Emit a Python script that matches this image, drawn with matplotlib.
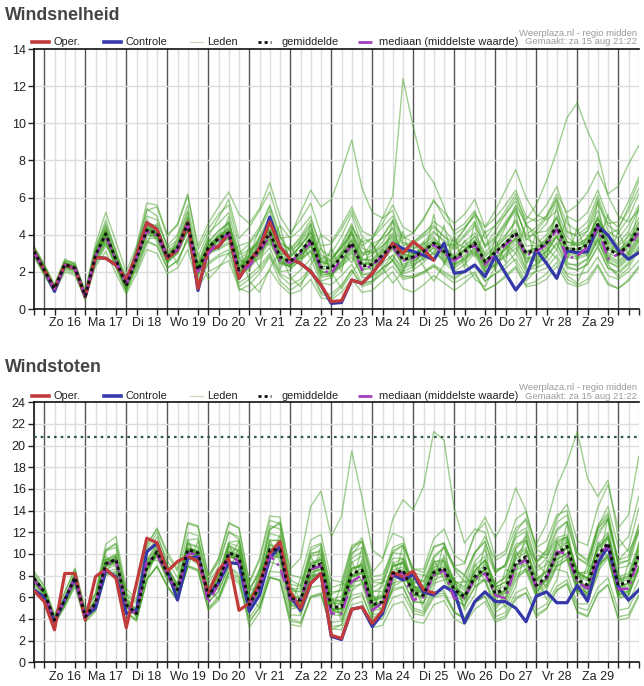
import numpy as np
import matplotlib
matplotlib.use('Agg')
import matplotlib.pyplot as plt
from matplotlib.lines import Line2D

plt.rcParams['font.family'] = ['Liberation Sans', 'DejaVu Sans']

# time axis: 6-hourly steps from Sat 15 aug 18:00 (step 0) to Sun 30 aug 12:00 (step 59)
n_steps = 60
day_labels = ['Zo 16', 'Ma 17', 'Di 18', 'Wo 19', 'Do 20', 'Vr 21', 'Za 22',
              'Zo 23', 'Ma 24', 'Di 25', 'Wo 26', 'Do 27', 'Vr 28', 'Za 29']

# ---------------- Windsnelheid ----------------
speed_oper = [3.1, 2.1, 1.1, 2.37, 2.19, 0.66, 2.78, 2.73, 2.37, 1.6,
              2.9, 4.65, 4.29, 2.73, 3.18, 4.65, 1.1, 3.18, 3.36, 4.1,
              1.65, 2.55, 3.27, 4.7, 3.36, 2.68, 2.46, 2.01, 1.29, 0.4,
              0.45, 1.56, 1.38, 1.92, 2.64, 3.54, 3.0, 3.63, 3.18, 2.64]
speed_ctrl = [3.1, 2.1, 0.95, 2.37, 2.19, 0.66, 2.78, 2.73, 2.37, 1.6,
              2.9, 4.65, 4.29, 2.73, 3.18, 4.65, 1.0, 3.18, 3.36, 4.1,
              1.65, 2.55, 3.27, 4.95, 3.36, 2.68, 2.46, 2.01, 1.29, 0.3,
              0.35, 1.56, 1.38, 1.92, 2.64, 3.54, 3.25, 3.1, 2.9, 2.64,
              3.54, 1.92, 2.01, 2.37, 1.74, 2.85, 1.92, 1.02, 1.74, 3.18,
              2.46, 1.65, 3.14, 3.03, 3.09, 4.47, 3.98, 3.18, 2.68, 3.03]
speed_mean = [3.1, 2.1, 1.1, 2.4, 2.2, 0.7, 2.9, 4.05, 2.65, 1.25,
              2.7, 4.25, 4.1, 2.8, 3.3, 4.6, 2.1, 3.3, 3.8, 4.1,
              2.1, 2.6, 3.2, 4.1, 2.8, 2.55, 3.1, 3.75, 2.25, 2.2,
              2.8, 3.55, 2.3, 2.4, 2.9, 3.45, 2.65, 2.8, 3.1, 3.55,
              3.1, 2.75, 3.1, 3.55, 2.55, 3.05, 3.55, 4.1, 3.0, 3.2,
              3.55, 4.5, 3.25, 3.2, 3.45, 4.55, 3.2, 2.95, 3.45, 4.35]
speed_median = [3.05, 2.1, 1.05, 2.35, 2.2, 0.7, 2.85, 3.95, 2.6, 1.3,
                2.75, 4.2, 3.95, 2.85, 3.2, 4.55, 2.0, 2.95, 3.7, 4.05,
                2.05, 2.3, 3.1, 3.95, 2.6, 2.5, 3.0, 3.6, 2.15, 1.9,
                2.7, 3.45, 2.1, 2.35, 2.85, 3.35, 2.6, 2.75, 3.05, 3.45,
                3.0, 2.6, 3.0, 3.45, 2.4, 2.95, 3.45, 3.95, 2.9, 3.1,
                3.45, 4.3, 2.7, 2.85, 3.35, 4.4, 2.7, 2.95, 3.3, 4.1]
speed_members = [
    [3.4, 2.4, 1.3, 2.6, 2.5, 0.9, 3.3, 4.6, 3.0, 1.5, 3.2, 5.0, 4.8, 3.4, 4.0, 5.6, 2.8, 4.1, 4.6, 5.2,
     3.0, 3.5, 4.2, 5.3, 3.6, 3.2, 3.8, 4.6, 2.9, 2.6, 3.5, 4.6, 3.0, 3.1, 3.9, 4.7, 3.5, 3.6, 4.1, 4.5,
     3.9, 3.4, 4.0, 4.7, 3.3, 3.8, 4.6, 5.4, 3.9, 4.0, 4.6, 5.8, 4.1, 4.0, 4.4, 5.9, 4.2, 3.8, 4.5, 5.6],
    [2.8, 1.8, 0.9, 2.1, 1.9, 0.5, 2.5, 3.5, 2.2, 0.9, 2.2, 3.6, 3.4, 2.2, 2.6, 3.7, 1.5, 2.5, 2.9, 3.2,
     1.4, 1.8, 2.3, 3.0, 1.9, 1.6, 2.1, 2.7, 1.4, 1.3, 1.8, 2.4, 1.4, 1.5, 1.9, 2.3, 1.6, 1.7, 2.0, 2.4,
     2.0, 1.7, 2.0, 2.3, 1.5, 1.9, 2.2, 2.7, 1.8, 2.0, 2.2, 2.9, 1.9, 1.8, 2.0, 2.8, 1.8, 1.6, 2.0, 2.6],
    [3.2, 2.2, 1.2, 2.5, 2.3, 0.8, 3.0, 4.3, 2.8, 1.3, 2.9, 4.5, 4.4, 3.0, 3.5, 5.0, 2.3, 3.6, 4.2, 4.6,
     2.5, 3.0, 3.8, 4.8, 3.2, 2.9, 3.7, 4.5, 2.7, 3.0, 3.9, 5.1, 3.4, 3.8, 4.9, 6.1, 12.4, 9.8, 7.6, 6.8,
     5.5, 4.0, 4.4, 5.0, 3.4, 3.9, 4.7, 5.5, 3.8, 3.5, 4.0, 5.0, 3.6, 3.4, 3.7, 4.8, 3.5, 3.1, 3.6, 4.6],
    [3.0, 2.0, 1.0, 2.3, 2.1, 0.6, 2.8, 3.8, 2.5, 1.1, 2.5, 4.0, 3.9, 2.6, 3.1, 4.3, 1.9, 3.0, 3.5, 3.8,
     1.8, 2.3, 2.9, 3.8, 2.5, 2.3, 2.8, 3.4, 2.0, 1.9, 2.5, 3.2, 2.1, 2.3, 2.8, 3.3, 2.6, 2.9, 3.4, 4.1,
     3.7, 3.3, 3.9, 4.5, 3.4, 4.2, 5.1, 6.0, 4.8, 5.6, 6.9, 8.5, 10.3, 11.1, 9.6, 8.4, 6.1, 5.0, 4.7, 5.3],
    [3.3, 2.3, 1.2, 2.5, 2.3, 0.8, 3.1, 4.2, 2.7, 1.3, 2.8, 4.4, 4.3, 2.9, 3.4, 4.8, 2.2, 3.4, 4.0, 4.3,
     2.2, 2.8, 3.5, 4.5, 3.1, 2.8, 3.4, 4.2, 2.5, 2.4, 3.1, 4.0, 2.6, 2.7, 3.3, 4.0, 3.0, 3.2, 3.6, 4.2,
     3.6, 3.2, 3.6, 4.1, 3.0, 3.7, 4.5, 5.3, 4.0, 4.4, 5.0, 6.2, 5.2, 5.6, 6.3, 7.4, 6.2, 6.6, 7.8, 8.8],
    [2.9, 2.0, 1.0, 2.2, 2.0, 0.6, 2.7, 3.9, 2.4, 1.1, 2.6, 4.1, 3.9, 2.7, 3.2, 4.5, 2.0, 3.1, 3.7, 4.0,
     2.3, 2.9, 3.9, 5.0, 3.8, 3.9, 5.2, 6.4, 5.5, 5.9, 7.4, 9.1, 6.5, 5.2, 4.9, 5.3, 3.6, 3.3, 3.5, 3.9,
     3.0, 2.6, 2.9, 3.3, 2.3, 2.8, 3.3, 3.8, 2.6, 2.8, 3.1, 3.9, 2.8, 2.7, 2.9, 3.9, 2.7, 2.4, 2.9, 3.8],
    [3.1, 2.1, 1.1, 2.4, 2.2, 0.7, 2.9, 4.1, 2.6, 1.2, 2.7, 4.3, 4.1, 2.8, 3.3, 4.6, 2.1, 3.2, 3.6, 3.9,
     1.0, 1.3, 1.9, 2.8, 1.5, 1.0, 1.4, 2.0, 0.8, 0.6, 1.2, 2.1, 1.3, 1.5, 2.2, 2.9, 2.0, 2.3, 2.8, 3.3,
     2.5, 2.0, 2.4, 3.0, 1.8, 2.4, 3.0, 3.7, 2.5, 2.7, 3.1, 4.0, 2.9, 2.8, 3.0, 4.1, 2.8, 2.5, 3.0, 3.9],
    [3.2, 2.2, 1.1, 2.5, 2.3, 0.8, 3.0, 4.2, 2.8, 1.3, 2.8, 4.4, 4.2, 2.9, 3.5, 4.9, 2.4, 3.9, 4.9, 5.9,
     3.8, 4.4, 5.3, 6.3, 4.5, 3.8, 4.3, 5.0, 3.2, 2.8, 3.3, 4.1, 2.7, 2.6, 3.1, 3.6, 2.8, 2.9, 3.2, 3.7,
     3.2, 2.8, 3.2, 3.7, 2.6, 3.1, 3.6, 4.2, 3.1, 3.3, 3.6, 4.5, 3.3, 3.2, 3.5, 4.6, 3.3, 3.0, 3.5, 4.4],
    [3.0, 2.0, 1.1, 2.3, 2.1, 0.7, 2.8, 3.7, 2.5, 1.2, 2.6, 4.1, 4.0, 2.7, 3.1, 4.4, 1.9, 2.9, 3.4, 3.8,
     2.0, 2.4, 3.0, 3.9, 2.6, 2.3, 2.9, 3.5, 2.0, 2.0, 2.6, 3.3, 2.1, 2.2, 2.7, 3.2, 2.4, 2.6, 2.9, 3.3,
     2.8, 2.4, 2.8, 3.2, 2.2, 2.7, 3.2, 3.8, 2.7, 2.9, 3.3, 4.2, 3.0, 2.9, 3.1, 4.2, 2.9, 2.6, 3.1, 4.0],
    [3.3, 2.3, 1.2, 2.6, 2.4, 0.8, 3.2, 4.8, 3.1, 1.5, 3.1, 5.4, 5.0, 3.3, 3.7, 5.2, 2.5, 3.0, 3.2, 3.5,
     1.6, 2.9, 4.3, 5.6, 4.0, 2.6, 2.7, 3.1, 1.5, 1.7, 2.9, 4.4, 3.6, 3.8, 4.4, 5.0, 3.9, 3.6, 4.0, 4.7,
     4.3, 3.6, 3.3, 3.5, 2.4, 3.3, 4.4, 5.6, 4.6, 3.8, 3.4, 3.9, 2.5, 2.3, 2.7, 3.8, 2.6, 2.2, 2.7, 3.6],
    [2.9, 1.9, 1.0, 2.2, 2.0, 0.6, 2.6, 3.6, 2.3, 1.0, 2.4, 3.8, 3.8, 2.5, 3.0, 4.2, 1.8, 3.2, 3.9, 4.4,
     2.6, 2.5, 2.7, 3.3, 2.0, 2.1, 2.7, 3.2, 1.8, 1.9, 2.3, 2.8, 1.8, 2.0, 2.5, 2.9, 2.2, 2.4, 2.7, 3.0,
     2.6, 2.2, 2.6, 3.1, 2.0, 2.4, 2.9, 3.5, 2.2, 2.4, 2.8, 3.6, 2.4, 2.4, 2.7, 3.7, 2.5, 2.3, 2.8, 3.7],
    [3.2, 2.2, 1.2, 2.5, 2.3, 0.7, 3.0, 4.1, 2.7, 1.3, 2.8, 4.3, 4.2, 2.9, 3.4, 4.7, 2.2, 3.4, 3.9, 4.2,
     2.2, 2.7, 3.3, 4.3, 3.0, 2.8, 3.4, 4.1, 2.6, 2.6, 3.3, 4.2, 3.0, 3.2, 3.9, 4.8, 3.8, 4.1, 4.9, 5.8,
     5.2, 4.6, 5.1, 5.9, 4.4, 4.9, 5.6, 6.4, 5.0, 4.7, 5.0, 5.9, 4.2, 3.9, 4.2, 5.3, 3.7, 3.5, 4.2, 5.4],
    [3.1, 2.1, 1.0, 2.4, 2.2, 0.7, 2.9, 4.0, 2.6, 1.2, 2.7, 4.2, 4.0, 2.7, 3.2, 4.5, 2.0, 3.2, 3.7, 4.0,
     2.0, 2.5, 3.1, 4.0, 2.7, 2.4, 2.9, 3.5, 2.0, 1.9, 2.4, 3.1, 1.9, 1.8, 2.2, 2.6, 1.7, 1.8, 2.0, 2.3,
     1.8, 1.4, 1.7, 2.0, 1.0, 1.3, 1.7, 2.2, 1.2, 1.3, 1.6, 2.3, 1.4, 1.2, 1.4, 2.3, 1.3, 1.1, 1.5, 2.2],
    [3.0, 2.1, 1.1, 2.3, 2.1, 0.7, 2.8, 4.0, 2.6, 1.2, 2.6, 4.2, 4.1, 2.8, 3.2, 4.6, 2.0, 3.0, 3.3, 3.6,
     1.8, 2.2, 2.8, 3.6, 2.4, 2.3, 3.0, 3.9, 2.5, 2.6, 3.4, 4.5, 3.3, 3.0, 3.4, 3.9, 2.9, 2.8, 3.0, 3.4,
     3.0, 2.7, 3.2, 3.9, 2.9, 3.4, 4.0, 4.7, 3.4, 3.4, 3.7, 4.6, 3.4, 3.5, 3.8, 5.0, 3.6, 3.2, 3.7, 4.7],
    [3.2, 2.2, 1.1, 2.4, 2.2, 0.7, 3.0, 4.3, 2.8, 1.3, 2.9, 4.6, 4.5, 3.1, 3.6, 4.9, 2.3, 3.6, 4.2, 4.7,
     2.7, 3.1, 3.5, 4.2, 2.7, 2.2, 2.6, 3.1, 1.7, 1.8, 2.5, 3.4, 2.4, 2.6, 3.2, 3.8, 2.9, 3.0, 3.3, 3.8,
     3.3, 2.9, 3.4, 3.9, 2.8, 3.3, 3.8, 4.3, 3.1, 3.3, 3.8, 4.9, 3.6, 3.5, 3.8, 4.9, 3.6, 3.4, 3.9, 4.9],
    [3.0, 2.0, 1.0, 2.3, 2.1, 0.6, 2.7, 3.8, 2.5, 1.1, 2.6, 4.0, 3.8, 2.6, 3.1, 4.3, 2.0, 3.2, 3.8, 4.2,
     2.3, 2.6, 3.0, 3.7, 2.5, 2.4, 3.1, 3.9, 2.4, 2.5, 3.0, 3.7, 2.4, 2.4, 2.8, 3.3, 2.3, 2.5, 3.0, 3.6,
     3.1, 2.7, 3.1, 3.6, 2.6, 3.0, 3.5, 4.1, 2.9, 3.1, 3.5, 4.4, 3.1, 3.0, 3.3, 4.3, 3.0, 2.8, 3.3, 4.2],
    [3.0, 1.9, 1.0, 2.2, 2.3, 0.9, 2.4, 3.4, 2.9, 1.8, 2.0, 3.5, 4.6, 3.5, 2.4, 3.9, 3.0, 1.6, 2.2, 3.0,
     3.4, 1.5, 0.9, 2.2, 3.1, 1.7, 1.2, 2.4, 3.3, 2.0, 1.1, 1.9, 2.8, 3.6, 2.2, 1.4, 2.0, 3.1, 2.3, 1.5,
     2.4, 3.5, 2.6, 1.6, 1.2, 2.3, 3.4, 2.5, 1.5, 2.1, 3.3, 2.7, 1.8, 1.4, 2.6, 3.7, 2.4, 1.7, 2.2, 3.2],
    [3.3, 2.4, 1.3, 2.7, 2.4, 1.0, 3.5, 5.2, 3.6, 2.0, 3.4, 5.7, 5.6, 4.0, 4.5, 6.1, 3.4, 4.6, 5.5, 6.3,
     5.1, 4.6, 5.4, 6.8, 5.0, 4.1, 4.8, 5.7, 4.0, 3.6, 4.5, 5.5, 4.2, 3.9, 4.6, 5.6, 4.4, 4.1, 4.8, 5.9,
     4.9, 4.2, 4.6, 5.3, 3.8, 4.5, 5.3, 6.2, 4.6, 4.9, 5.6, 6.6, 5.0, 4.7, 5.2, 6.4, 4.9, 4.4, 5.3, 6.5],
    [2.9, 1.9, 0.9, 2.0, 1.8, 0.5, 2.3, 3.1, 1.9, 0.8, 1.9, 3.2, 3.0, 1.9, 2.2, 3.2, 1.2, 2.0, 2.3, 2.6,
     1.1, 0.9, 1.4, 2.1, 1.3, 0.8, 1.0, 1.6, 0.6, 0.5, 0.9, 1.6, 0.9, 1.0, 1.5, 2.0, 1.1, 0.9, 1.3, 1.8,
     1.4, 1.0, 1.4, 1.9, 1.0, 1.3, 1.8, 2.3, 1.3, 1.5, 1.9, 2.5, 1.6, 1.3, 1.6, 2.4, 1.4, 1.1, 1.6, 2.3],
    [3.1, 2.2, 1.2, 2.5, 2.1, 0.8, 3.1, 4.4, 2.4, 1.0, 3.0, 4.8, 3.6, 2.4, 3.9, 5.3, 1.7, 3.7, 3.2, 5.0,
     1.7, 3.4, 2.2, 4.9, 2.1, 3.5, 2.3, 4.6, 1.8, 3.3, 2.0, 4.3, 1.9, 3.6, 2.4, 4.8, 2.0, 3.7, 2.6, 5.1,
     2.4, 4.0, 2.2, 4.7, 2.0, 3.8, 2.5, 5.2, 2.3, 4.1, 2.7, 5.6, 2.6, 4.4, 2.8, 5.8, 2.5, 4.2, 2.9, 5.5],
    [3.2, 2.3, 1.2, 2.5, 2.4, 0.8, 3.2, 4.5, 3.1, 1.5, 3.3, 5.3, 5.5, 3.9, 4.6, 6.2, 3.2, 4.3, 5.1, 5.6,
     3.4, 3.6, 4.4, 5.5, 3.9, 3.1, 3.6, 4.3, 2.6, 2.3, 2.9, 3.8, 2.5, 2.4, 2.9, 3.7, 2.7, 2.6, 3.0, 3.6,
     3.0, 2.6, 3.1, 3.7, 2.6, 3.2, 3.9, 4.8, 3.7, 4.2, 4.9, 6.0, 4.6, 4.2, 4.7, 6.1, 4.5, 4.1, 4.9, 6.2],
    [3.0, 2.0, 1.0, 2.3, 2.1, 0.6, 2.6, 3.6, 2.3, 1.0, 2.3, 3.7, 3.4, 2.2, 2.6, 3.8, 1.5, 2.4, 2.8, 3.0,
     1.2, 1.6, 2.1, 2.9, 1.8, 1.3, 1.6, 2.2, 0.9, 0.8, 1.3, 2.1, 1.2, 1.4, 2.0, 2.7, 1.9, 2.1, 2.5, 3.1,
     2.7, 2.3, 2.7, 3.3, 2.2, 2.7, 3.2, 3.9, 2.8, 2.6, 2.8, 3.5, 2.3, 2.1, 2.4, 3.4, 2.2, 1.9, 2.4, 3.3],
    [3.1, 2.1, 1.1, 2.4, 2.2, 0.7, 2.9, 4.0, 2.6, 1.2, 2.7, 4.3, 4.1, 2.8, 3.3, 4.7, 2.1, 3.4, 3.9, 4.3,
     2.4, 2.9, 3.7, 4.8, 3.5, 3.2, 3.9, 4.8, 3.4, 3.5, 4.3, 5.3, 3.9, 3.5, 3.8, 4.3, 3.0, 2.8, 3.1, 3.6,
     3.4, 3.5, 4.3, 5.2, 4.1, 4.5, 5.1, 5.8, 4.5, 4.1, 4.2, 4.9, 3.6, 3.6, 4.2, 5.7, 4.6, 4.7, 5.8, 7.1],
    [3.2, 2.2, 1.1, 2.4, 2.3, 0.7, 3.0, 4.1, 2.7, 1.3, 2.8, 4.3, 4.1, 2.8, 3.4, 4.7, 2.2, 3.3, 3.7, 4.0,
     2.3, 2.8, 3.4, 4.3, 3.0, 2.8, 3.4, 4.1, 2.7, 2.7, 3.3, 4.1, 2.9, 3.0, 3.6, 4.4, 3.4, 3.5, 3.9, 4.4,
     3.9, 3.6, 4.3, 5.1, 4.4, 5.3, 6.4, 7.5, 6.0, 5.1, 4.8, 5.3, 3.9, 3.4, 3.6, 4.6, 3.4, 3.0, 3.4, 4.4],
    [3.0, 2.0, 1.0, 2.3, 2.2, 0.7, 2.8, 3.9, 2.6, 1.2, 2.6, 4.1, 4.0, 2.7, 3.2, 4.4, 2.0, 3.3, 4.0, 4.7,
     2.9, 3.2, 3.6, 4.3, 2.9, 2.6, 3.0, 3.6, 2.1, 2.2, 2.8, 3.7, 2.6, 2.9, 3.4, 4.1, 3.1, 3.0, 3.2, 3.5,
     2.9, 2.4, 2.7, 3.1, 2.0, 2.4, 2.8, 3.3, 2.1, 2.2, 2.5, 3.2, 2.2, 2.1, 2.4, 3.3, 2.2, 2.0, 2.5, 3.4],
    [3.2, 2.1, 1.1, 2.5, 2.2, 0.8, 2.9, 4.2, 2.7, 1.4, 2.9, 4.5, 3.9, 2.5, 3.0, 4.2, 2.5, 3.8, 3.3, 4.6,
     2.8, 2.0, 3.9, 3.4, 4.5, 2.3, 3.6, 2.7, 4.0, 1.6, 3.1, 2.5, 3.8, 1.8, 3.2, 2.6, 4.2, 2.1, 3.6, 2.9,
     4.5, 2.3, 3.7, 2.8, 4.2, 2.1, 3.5, 3.0, 4.6, 2.4, 3.8, 3.2, 5.0, 2.6, 4.0, 3.4, 5.1, 2.7, 4.1, 3.6],
    [3.1, 2.1, 1.1, 2.4, 2.2, 0.7, 2.9, 4.0, 2.6, 1.2, 2.7, 4.2, 4.1, 2.8, 3.3, 4.6, 2.1, 3.3, 3.8, 4.1,
     2.1, 2.6, 3.2, 4.1, 2.8, 2.5, 3.1, 3.8, 2.3, 2.3, 2.9, 3.6, 2.4, 2.5, 3.0, 3.5, 2.7, 2.9, 3.2, 3.6,
     3.2, 2.8, 3.2, 3.6, 2.6, 3.1, 3.6, 4.1, 3.0, 3.2, 3.6, 4.5, 3.3, 3.2, 3.5, 4.6, 3.2, 3.0, 3.5, 4.4],
    [3.1, 2.1, 1.1, 2.4, 2.2, 0.7, 2.9, 4.0, 2.6, 1.2, 2.7, 4.2, 4.1, 2.8, 3.3, 4.6, 2.1, 3.3, 3.8, 4.1,
     2.0, 2.4, 3.0, 3.8, 2.5, 2.3, 2.8, 3.4, 1.9, 1.8, 2.3, 3.0, 1.7, 1.7, 2.2, 2.6, 1.8, 1.7, 1.9, 2.3,
     1.9, 1.6, 2.0, 2.4, 1.5, 1.9, 2.4, 3.0, 2.0, 2.4, 3.0, 3.9, 3.0, 3.1, 3.6, 4.9, 4.0, 4.3, 5.5, 6.9],
]

# ---------------- Windstoten ----------------
gust_oper = [6.6, 5.6, 3.0, 8.2, 8.2, 3.9, 7.9, 8.6, 7.75, 3.2,
             7.3, 11.45, 11.05, 8.4, 9.3, 9.8, 9.3, 6.4, 8.5, 9.6,
             4.8, 5.45, 7.3, 10.05, 11.15, 6.5, 5.0, 7.3, 8.2, 2.5,
             2.2, 4.9, 5.1, 3.6, 4.8, 8.3, 7.9, 8.4, 6.7, 6.4]
gust_ctrl = [6.7, 6.0, 3.75, 5.75, 7.75, 4.2, 5.0, 8.5, 7.9, 4.5,
             4.8, 10.2, 11.0, 8.5, 5.75, 9.6, 9.75, 6.2, 7.3, 9.2,
             9.1, 4.7, 6.2, 9.6, 10.7, 6.1, 4.8, 7.3, 8.2, 2.4,
             2.1, 4.9, 5.1, 3.3, 4.5, 8.1, 7.6, 8.1, 6.5, 6.2,
             7.0, 6.5, 3.65, 5.6, 6.5, 5.6, 5.6, 5.0, 3.75, 6.1,
             6.5, 5.5, 5.5, 7.1, 5.65, 9.15, 10.7, 7.0, 5.75, 6.65]
gust_mean = [7.75, 6.5, 3.9, 5.75, 7.85, 4.2, 5.45, 9.1, 9.5, 5.3,
             4.5, 8.8, 10.2, 8.2, 6.7, 10.4, 10.1, 6.1, 7.45, 10.1,
             9.75, 5.3, 7.0, 10.4, 10.4, 5.9, 5.75, 8.8, 9.1, 5.1,
             5.1, 8.2, 8.5, 5.3, 5.6, 8.2, 8.5, 6.4, 6.2, 8.3,
             8.7, 6.7, 6.05, 7.9, 8.7, 6.35, 6.8, 9.15, 9.75, 7.1,
             7.9, 10.0, 10.7, 7.6, 7.15, 9.9, 11.0, 7.1, 7.45, 9.9]
gust_median = [7.6, 6.4, 3.9, 5.7, 7.8, 4.2, 5.4, 9.0, 9.4, 5.2,
               4.5, 9.3, 9.9, 8.1, 6.6, 10.05, 10.0, 5.45, 7.3, 9.9,
               9.3, 5.2, 6.9, 9.9, 8.8, 5.8, 5.7, 8.6, 8.9, 4.5,
               4.5, 7.45, 8.05, 4.8, 5.5, 8.0, 8.3, 5.75, 6.0, 8.0,
               8.5, 5.9, 6.0, 7.7, 8.2, 6.2, 5.9, 8.9, 9.45, 6.9,
               7.7, 10.2, 10.05, 7.4, 6.8, 9.7, 10.8, 6.75, 6.8, 9.6]
gust_members = [
    [8.4, 7.1, 4.4, 6.5, 8.7, 4.8, 6.3, 10.4, 11.0, 6.2, 5.4, 10.0, 11.6, 9.4, 7.8, 12.0, 11.7, 7.3, 8.8, 12.0,
     11.6, 6.6, 8.6, 12.6, 12.3, 7.2, 7.0, 10.6, 11.0, 6.5, 6.6, 10.1, 10.6, 6.9, 7.4, 10.3, 10.8, 8.3, 8.0, 10.6,
     11.0, 8.7, 8.0, 10.1, 11.2, 8.3, 9.0, 11.8, 12.4, 9.3, 10.3, 12.9, 13.6, 10.1, 9.5, 12.6, 13.8, 9.4, 9.8, 12.7],
    [7.1, 5.9, 3.5, 5.1, 7.0, 3.7, 4.7, 8.0, 8.3, 4.5, 3.8, 7.6, 8.8, 7.0, 5.7, 8.9, 8.6, 5.0, 6.1, 8.3,
     7.8, 4.1, 5.5, 8.4, 8.3, 4.4, 4.3, 6.9, 7.1, 3.7, 3.8, 6.2, 6.4, 3.8, 4.0, 6.0, 6.3, 4.5, 4.3, 6.0,
     6.2, 4.6, 4.0, 5.5, 6.1, 4.2, 4.6, 6.4, 6.9, 4.8, 5.4, 7.0, 7.6, 5.1, 4.8, 6.9, 7.8, 4.8, 5.0, 6.9],
    [7.9, 6.6, 4.0, 5.9, 8.0, 4.3, 5.6, 9.4, 9.8, 5.5, 4.7, 9.1, 10.6, 8.5, 7.0, 10.9, 10.6, 6.4, 7.9, 10.7,
     10.3, 5.8, 7.6, 11.3, 11.2, 6.6, 6.5, 9.9, 10.4, 6.3, 6.7, 10.4, 11.5, 8.3, 9.4, 13.2, 15.0, 14.1, 16.2, 21.3,
     20.5, 14.2, 11.0, 12.3, 12.0, 8.6, 8.8, 10.9, 11.2, 8.4, 9.0, 11.1, 11.6, 8.3, 7.7, 10.5, 11.6, 7.6, 7.9, 10.4],
    [7.6, 6.4, 3.8, 5.6, 7.6, 4.1, 5.3, 8.9, 9.3, 5.2, 4.4, 8.6, 10.0, 8.0, 6.6, 10.2, 9.9, 6.0, 7.2, 9.8,
     9.4, 5.1, 6.7, 10.0, 10.0, 5.6, 5.5, 8.5, 8.8, 4.9, 4.9, 7.9, 8.2, 5.2, 5.5, 8.0, 8.4, 6.5, 6.4, 8.8,
     9.3, 7.5, 7.0, 9.3, 10.4, 8.2, 9.1, 12.0, 13.3, 10.9, 12.8, 16.2, 18.4, 21.3, 17.0, 15.3, 16.8, 11.5, 10.2, 12.1],
    [7.8, 6.6, 4.0, 5.8, 7.9, 4.3, 5.5, 9.2, 9.7, 5.4, 4.6, 9.0, 10.4, 8.3, 6.8, 10.6, 10.3, 6.2, 7.6, 10.3,
     10.0, 5.5, 7.3, 10.8, 10.8, 6.2, 6.0, 9.2, 9.6, 5.4, 5.4, 8.7, 9.0, 5.7, 6.0, 8.8, 9.2, 7.0, 6.9, 9.2,
     9.6, 7.5, 6.8, 8.9, 9.8, 7.2, 7.9, 10.6, 11.6, 9.2, 10.4, 13.3, 14.6, 11.2, 10.8, 14.3, 16.4, 12.4, 13.6, 19.0],
    [7.5, 6.3, 3.8, 5.5, 7.6, 4.1, 5.2, 8.8, 9.2, 5.1, 4.4, 8.5, 9.9, 8.0, 6.5, 10.1, 9.8, 5.9, 7.3, 10.0,
     9.9, 5.9, 8.0, 12.2, 13.0, 8.6, 9.6, 14.4, 15.8, 11.6, 13.5, 19.5, 15.2, 10.4, 9.6, 11.9, 11.5, 8.1, 7.4, 9.3,
     9.4, 7.0, 6.1, 7.9, 8.5, 6.0, 6.4, 8.5, 9.0, 6.5, 7.2, 9.1, 9.8, 6.9, 6.4, 9.0, 10.0, 6.3, 6.6, 8.9],
    [7.7, 6.5, 3.9, 5.7, 7.8, 4.2, 5.4, 9.2, 9.5, 5.3, 4.5, 8.9, 10.3, 8.2, 6.7, 10.3, 9.9, 5.6, 6.5, 8.8,
     7.9, 3.2, 4.6, 7.9, 7.5, 3.5, 3.3, 6.1, 6.4, 3.0, 3.5, 6.6, 7.4, 4.9, 5.5, 8.0, 8.6, 6.6, 6.5, 8.7,
     9.1, 7.0, 6.3, 8.2, 9.0, 6.6, 7.1, 9.5, 10.2, 7.5, 8.3, 10.4, 11.2, 8.0, 7.5, 10.3, 11.4, 7.5, 7.8, 10.3],
    [7.9, 6.7, 4.1, 5.9, 8.0, 4.4, 5.7, 9.5, 10.0, 5.6, 4.8, 9.3, 10.8, 8.7, 7.2, 11.3, 11.4, 7.6, 9.5, 12.8,
     12.4, 7.3, 9.4, 13.1, 12.8, 7.6, 7.1, 10.1, 10.2, 5.8, 5.7, 8.7, 8.8, 5.4, 5.6, 8.1, 8.3, 6.2, 6.0, 8.0,
     8.3, 6.4, 5.8, 7.6, 8.3, 6.0, 6.4, 8.7, 9.2, 6.7, 7.5, 9.5, 10.1, 7.1, 6.7, 9.4, 10.4, 6.7, 7.0, 9.4],
    [7.6, 6.4, 3.9, 5.6, 7.7, 4.2, 5.4, 9.0, 9.4, 5.2, 4.5, 8.7, 10.1, 8.1, 6.6, 10.2, 9.9, 6.0, 7.2, 9.8,
     9.4, 5.1, 6.8, 10.1, 10.1, 5.7, 5.5, 8.5, 8.8, 4.9, 4.9, 7.9, 8.2, 5.1, 5.4, 7.9, 8.2, 6.2, 6.0, 8.0,
     8.4, 6.5, 5.8, 7.7, 8.5, 6.1, 6.6, 8.9, 9.5, 6.9, 7.7, 9.8, 10.5, 7.4, 6.9, 9.7, 10.8, 6.9, 7.2, 9.7],
    [7.9, 6.7, 4.1, 5.9, 8.1, 4.4, 5.8, 10.3, 10.6, 5.9, 4.7, 10.4, 12.0, 9.0, 6.9, 9.8, 9.0, 5.5, 6.6, 8.8,
     8.2, 4.8, 7.9, 12.3, 12.8, 7.1, 5.9, 8.0, 8.1, 4.4, 5.6, 9.9, 11.2, 7.9, 8.1, 10.1, 10.0, 7.4, 7.1, 9.6,
     10.6, 8.6, 7.4, 7.7, 7.5, 4.9, 6.0, 9.7, 11.1, 9.2, 8.1, 8.6, 8.3, 5.4, 5.4, 8.4, 9.6, 6.0, 6.2, 8.7],
    [7.4, 6.2, 3.7, 5.4, 7.4, 4.0, 5.1, 8.6, 9.0, 5.0, 4.3, 8.3, 9.8, 7.7, 6.3, 9.8, 9.7, 6.4, 8.1, 11.0,
     10.7, 6.6, 7.1, 9.3, 8.9, 4.9, 5.1, 8.0, 8.3, 4.5, 4.7, 7.4, 7.6, 4.7, 5.0, 7.3, 7.6, 5.6, 5.5, 7.3,
     7.6, 5.8, 5.3, 7.0, 7.7, 5.5, 6.0, 8.1, 8.6, 6.2, 7.0, 8.9, 9.5, 6.6, 6.2, 8.8, 9.8, 6.2, 6.5, 8.8],
    [7.8, 6.6, 4.0, 5.8, 7.9, 4.3, 5.5, 9.2, 9.6, 5.4, 4.6, 8.9, 10.3, 8.3, 6.8, 10.5, 10.2, 6.2, 7.5, 10.2,
     9.8, 5.4, 7.1, 10.5, 10.5, 6.1, 5.9, 9.1, 9.5, 5.5, 5.7, 9.2, 9.8, 6.4, 7.0, 10.1, 10.8, 8.6, 8.6, 11.4,
     12.3, 9.9, 9.2, 11.8, 12.9, 9.7, 10.3, 13.2, 13.9, 10.6, 11.2, 13.6, 14.0, 10.1, 9.3, 12.4, 13.3, 8.7, 8.9, 12.0],
    [7.7, 6.5, 3.9, 5.7, 7.8, 4.2, 5.4, 9.1, 9.5, 5.3, 4.5, 8.8, 10.1, 8.1, 6.6, 10.3, 10.0, 6.0, 7.3, 9.9,
     9.5, 5.1, 6.8, 10.1, 10.0, 5.6, 5.4, 8.3, 8.6, 4.7, 4.6, 7.4, 7.6, 4.4, 4.6, 6.8, 7.0, 5.0, 4.7, 6.5,
     6.6, 4.7, 4.0, 5.5, 6.1, 3.9, 4.3, 6.0, 6.4, 4.2, 4.9, 6.7, 7.3, 4.6, 4.2, 6.4, 7.2, 3.9, 4.1, 6.1],
    [7.6, 6.4, 3.9, 5.6, 7.7, 4.2, 5.4, 9.0, 9.4, 5.3, 4.5, 8.7, 10.0, 8.0, 6.5, 10.1, 9.8, 5.9, 7.0, 9.4,
     9.0, 5.0, 6.7, 9.8, 9.7, 5.6, 5.6, 8.9, 9.5, 5.8, 6.1, 9.6, 10.2, 6.6, 6.5, 8.9, 9.1, 6.8, 6.5, 8.4,
     8.8, 6.8, 6.2, 8.4, 9.4, 6.9, 7.4, 10.0, 10.6, 7.7, 8.4, 10.7, 11.4, 8.2, 7.7, 10.8, 12.0, 7.9, 8.2, 10.9],
    [7.8, 6.6, 4.0, 5.8, 7.9, 4.3, 5.6, 9.4, 9.9, 5.6, 4.8, 9.4, 11.0, 8.8, 7.2, 11.0, 10.7, 6.5, 7.9, 10.8,
     10.3, 5.8, 7.2, 10.2, 9.8, 5.2, 5.0, 7.8, 8.2, 4.7, 5.0, 8.1, 8.7, 5.7, 6.1, 8.9, 9.2, 7.0, 6.8, 9.0,
     9.4, 7.3, 6.6, 8.5, 9.4, 6.9, 7.4, 9.8, 10.4, 7.6, 8.5, 10.9, 11.6, 8.3, 7.7, 10.6, 11.7, 7.7, 8.0, 10.7],
    [7.6, 6.4, 3.8, 5.6, 7.7, 4.1, 5.3, 8.9, 9.3, 5.2, 4.4, 8.6, 9.9, 7.9, 6.5, 10.0, 9.7, 5.9, 7.2, 9.8,
     9.5, 5.2, 6.9, 10.2, 10.2, 5.8, 5.6, 8.6, 8.9, 5.0, 5.0, 8.0, 8.3, 5.2, 5.5, 8.1, 8.4, 6.3, 6.1, 8.1,
     8.5, 6.6, 5.9, 7.8, 8.6, 6.2, 6.7, 9.0, 9.6, 7.0, 7.8, 9.9, 10.6, 7.5, 7.0, 9.8, 10.9, 7.0, 7.3, 9.8],
    [7.5, 6.0, 3.7, 5.2, 7.3, 4.6, 5.0, 8.2, 9.8, 6.4, 4.0, 7.5, 11.0, 9.0, 5.9, 8.8, 11.2, 7.0, 5.8, 8.4,
     10.6, 6.2, 5.0, 8.3, 11.0, 6.8, 4.4, 7.2, 10.0, 6.0, 3.9, 6.5, 9.5, 6.4, 4.3, 6.8, 9.6, 7.2, 4.9, 6.9,
     9.9, 7.6, 4.8, 6.2, 9.4, 7.1, 5.0, 7.0, 10.4, 8.0, 5.8, 7.6, 11.3, 8.4, 5.7, 8.0, 11.8, 8.2, 5.5, 7.6],
    [8.2, 7.0, 4.3, 6.4, 8.6, 4.9, 6.4, 10.9, 11.6, 6.8, 5.8, 10.9, 12.3, 9.9, 8.4, 12.8, 12.5, 8.0, 9.6, 12.9,
     12.4, 7.4, 9.6, 13.5, 13.4, 8.1, 7.8, 11.3, 11.8, 7.6, 7.4, 10.8, 11.2, 7.5, 7.7, 10.6, 11.0, 8.6, 8.3, 10.7,
     11.0, 8.8, 8.1, 10.2, 11.1, 8.4, 8.9, 11.5, 12.1, 9.2, 10.0, 12.3, 13.0, 9.7, 9.1, 12.0, 13.2, 9.2, 9.4, 12.2],
    [7.3, 6.1, 3.6, 5.2, 7.1, 3.8, 4.8, 8.1, 8.4, 4.6, 3.9, 7.6, 8.9, 7.0, 5.7, 8.9, 8.5, 4.9, 5.9, 8.2,
     7.5, 3.7, 5.0, 7.8, 7.6, 3.8, 3.6, 6.0, 6.2, 3.1, 3.0, 5.3, 5.6, 3.2, 3.4, 5.3, 5.6, 3.8, 3.6, 5.3,
     5.7, 4.0, 3.5, 4.9, 5.6, 3.7, 4.1, 5.8, 6.4, 4.4, 5.0, 6.6, 7.2, 4.7, 4.3, 6.3, 7.1, 4.2, 4.4, 6.2],
    [7.9, 6.4, 4.1, 5.9, 8.3, 4.0, 5.9, 9.8, 8.8, 5.8, 4.2, 9.6, 9.4, 8.9, 6.0, 11.3, 9.3, 6.8, 6.7, 11.0,
     8.6, 6.2, 6.1, 11.3, 9.2, 6.9, 4.8, 9.8, 8.0, 6.0, 4.3, 9.3, 7.4, 6.3, 4.7, 9.3, 7.5, 7.4, 5.3, 9.5,
     7.6, 7.8, 5.0, 9.1, 7.5, 7.4, 5.8, 10.3, 8.5, 8.2, 6.9, 11.2, 9.5, 8.7, 6.1, 11.1, 9.7, 8.2, 6.3, 11.1],
    [7.8, 6.7, 4.1, 6.0, 8.2, 4.6, 6.2, 10.3, 10.9, 6.4, 5.6, 10.7, 12.4, 10.2, 8.6, 12.9, 12.6, 8.0, 9.2, 12.1,
     11.3, 6.6, 8.4, 11.9, 11.6, 6.8, 6.5, 9.8, 10.0, 5.8, 5.6, 8.7, 8.9, 5.6, 5.9, 8.5, 8.8, 6.7, 6.4, 8.5,
     8.9, 6.9, 6.3, 8.4, 9.5, 7.2, 7.8, 10.5, 11.3, 8.6, 9.6, 12.1, 13.0, 9.6, 9.0, 12.3, 13.6, 9.0, 9.4, 12.6],
    [7.5, 6.3, 3.8, 5.5, 7.5, 4.0, 5.0, 8.4, 8.6, 4.7, 3.9, 7.7, 8.9, 7.1, 5.7, 8.8, 8.4, 4.8, 5.7, 7.9,
     7.3, 3.8, 5.1, 7.8, 7.6, 4.0, 3.7, 6.0, 6.3, 3.3, 3.4, 5.8, 6.2, 3.9, 4.4, 7.0, 7.5, 5.6, 5.5, 7.6,
     8.0, 6.1, 5.6, 7.5, 8.3, 6.1, 6.6, 8.9, 9.5, 7.0, 7.6, 9.5, 10.0, 7.0, 6.4, 8.9, 9.8, 6.2, 6.3, 8.5],
    [7.7, 6.5, 3.9, 5.7, 7.8, 4.2, 5.4, 9.1, 9.5, 5.3, 4.5, 8.8, 10.2, 8.2, 6.7, 10.5, 10.3, 6.3, 7.7, 10.5,
     10.2, 5.8, 7.6, 11.2, 11.3, 6.8, 6.8, 10.3, 10.9, 6.9, 7.2, 10.6, 11.1, 7.4, 7.3, 9.6, 9.6, 7.0, 6.5, 8.4,
     8.6, 7.4, 7.4, 10.0, 11.6, 9.4, 10.0, 12.4, 13.1, 9.9, 9.6, 11.3, 11.5, 8.2, 8.4, 12.5, 14.4, 10.6, 11.6, 15.3],
    [7.8, 6.6, 4.0, 5.8, 7.9, 4.3, 5.5, 9.2, 9.6, 5.4, 4.6, 8.9, 10.3, 8.3, 6.8, 10.5, 10.2, 6.2, 7.5, 10.2,
     9.8, 5.4, 7.1, 10.5, 10.5, 6.1, 5.9, 9.1, 9.4, 5.4, 5.5, 8.6, 9.0, 5.8, 6.3, 9.1, 9.6, 7.4, 7.5, 9.8,
     10.6, 8.9, 9.1, 11.8, 13.4, 11.5, 13.2, 16.1, 14.0, 10.4, 9.9, 11.5, 11.8, 8.4, 7.8, 10.6, 11.5, 7.4, 7.6, 10.0],
    [7.6, 6.4, 3.9, 5.6, 7.7, 4.2, 5.3, 8.9, 9.3, 5.2, 4.4, 8.6, 10.0, 8.0, 6.6, 10.2, 10.1, 6.4, 8.2, 11.1,
     11.2, 6.8, 8.1, 10.9, 10.1, 5.4, 5.2, 8.2, 8.6, 4.8, 4.9, 8.4, 9.2, 6.0, 6.1, 8.9, 9.3, 7.0, 6.6, 8.2,
     8.1, 5.9, 5.2, 6.9, 7.6, 5.2, 5.7, 7.9, 8.4, 6.0, 6.7, 8.8, 9.5, 6.4, 6.0, 8.8, 9.8, 5.9, 6.1, 8.7],
    [7.9, 6.4, 4.0, 5.9, 7.6, 4.4, 5.6, 9.5, 9.3, 5.8, 4.9, 9.4, 9.8, 7.5, 7.4, 11.0, 9.6, 6.8, 8.6, 9.4,
     11.2, 4.8, 8.6, 9.3, 11.8, 5.0, 7.8, 7.4, 10.8, 4.4, 7.3, 7.0, 10.6, 4.3, 7.6, 7.2, 10.8, 5.4, 8.1, 7.5,
     11.0, 5.6, 8.0, 7.0, 10.8, 5.2, 8.6, 8.1, 11.9, 5.8, 9.4, 8.8, 12.9, 6.3, 9.0, 8.6, 13.4, 6.0, 9.2, 8.8],
    [7.7, 6.5, 3.9, 5.7, 7.8, 4.2, 5.4, 9.1, 9.5, 5.3, 4.5, 8.8, 10.2, 8.2, 6.7, 10.4, 10.1, 6.1, 7.4, 10.1,
     9.6, 5.2, 6.9, 10.2, 10.2, 5.8, 5.6, 8.6, 8.9, 4.9, 5.0, 8.0, 8.4, 5.2, 5.5, 8.1, 8.4, 6.3, 6.1, 8.2,
     8.6, 6.6, 5.9, 7.8, 8.6, 6.2, 6.7, 9.0, 9.6, 7.0, 7.8, 9.9, 10.6, 7.5, 7.0, 9.8, 10.9, 7.0, 7.3, 9.8],
    [7.7, 6.5, 3.9, 5.7, 7.8, 4.2, 5.4, 9.1, 9.5, 5.3, 4.5, 8.8, 10.2, 8.2, 6.7, 10.4, 10.1, 6.1, 7.4, 10.1,
     9.4, 5.0, 6.6, 9.8, 9.7, 5.3, 5.1, 7.9, 8.1, 4.4, 4.3, 7.0, 7.2, 4.2, 4.4, 6.6, 6.9, 4.8, 4.5, 6.2,
     6.4, 4.6, 4.1, 5.7, 6.6, 4.6, 5.3, 7.6, 8.6, 6.5, 7.6, 10.0, 11.1, 8.3, 8.2, 11.6, 13.2, 9.4, 10.5, 14.2],
]
gust_threshold = 20.8

RED = '#c23b3b'
BLUE = '#3538a8'
GREEN = '#43a024'
PURPLE = '#a83cc0'
TXT = '#222222'


def draw_panel(ax, members, oper, ctrl, median, mean, ymax):
    steps = np.arange(n_steps)
    ax.set_xlim(0, n_steps - 1)
    ax.set_ylim(0, ymax)
    for s in steps:
        is_midnight = (s % 4 == 1)
        ax.axvline(s, color='#555555' if is_midnight else '#dddddd', lw=1.0, zorder=1)
    for yv in range(2, ymax, 2):
        ax.axhline(yv, color='#dddddd', lw=1.0, zorder=1)
    for m in members:
        assert len(m) == n_steps
        ax.plot(steps, m, color=GREEN, lw=1.0, alpha=0.5, zorder=2)
    ax.plot(steps[:len(ctrl)], ctrl, color=BLUE, lw=2.3, zorder=4)
    ax.plot(steps[:len(oper)], oper, color=RED, lw=2.3, zorder=5)
    ax.plot(steps, median, color=PURPLE, lw=1.8, dashes=(5, 2, 1, 2), zorder=6)
    ax.plot(steps, mean, color='#111111', lw=2.1, dashes=(1.1, 1.1), zorder=7)

    ax.set_yticks(range(0, ymax + 1, 2))
    ax.set_xticks(steps, minor=True)
    ax.set_xticks([3 + 4 * k for k in range(len(day_labels))])
    ax.set_xticklabels(day_labels)
    ax.tick_params(axis='x', which='both', length=0, pad=6, labelsize=9, colors=TXT)
    ax.tick_params(axis='x', which='minor', length=4, width=1, color='#222222')
    ax.tick_params(axis='y', length=4, width=1, labelsize=9, colors=TXT, pad=2)
    for side in ['left', 'top', 'bottom']:
        ax.spines[side].set_color('#111111')
        ax.spines[side].set_linewidth(1.2)
    ax.spines['right'].set_visible(False)


def draw_header(fig, title, title_y, legend_y):
    H = 686.0
    W = 644.0
    fig.text(5 / W, 1 - title_y / H, title, fontsize=12.8, fontweight='bold',
             color='#444444', va='center', ha='left')
    ly = 1 - legend_y / H
    items = [
        (32, 49, dict(color=RED, lw=2.6), 'Oper.', 53),
        (104, 121, dict(color=BLUE, lw=2.6), 'Controle', 125),
        (190, 203, dict(color='#c8d8b8', lw=0.9), 'Leden', 207),
        (258, 271, dict(color='#111111', lw=2.0, dashes=(1.1, 1.1)), 'gemiddelde', 281),
        (358, 375, dict(color=PURPLE, lw=2.0, dashes=(5, 2, 1, 2)), 'mediaan (middelste waarde)', 379),
    ]
    for x0, x1, style, label, tx in items:
        fig.add_artist(Line2D([x0 / W, x1 / W], [ly, ly], transform=fig.transFigure, **style))
        fig.text(tx / W, ly, label, fontsize=7.9, color=TXT, va='center', ha='left')
    fig.text(637 / W, 1 - (legend_y - 9) / H, 'Weerplaza.nl - regio midden', fontsize=6.8,
             color='#9a9a9a', va='center', ha='right')
    fig.text(637 / W, ly, 'Gemaakt: za 15 aug 21:22', fontsize=6.8,
             color='#9a9a9a', va='center', ha='right')


fig = plt.figure(figsize=(6.44, 6.86), dpi=100)
fig.patch.set_facecolor('white')

ax_top = fig.add_axes([34 / 644, 1 - 309 / 686, 604.75 / 644, 260 / 686])
draw_panel(ax_top, speed_members, speed_oper, speed_ctrl, speed_median, speed_mean, 14)
draw_header(fig, 'Windsnelheid', 15, 42)

ax_bot = fig.add_axes([34 / 644, 1 - 662.3 / 686, 604.75 / 644, 260 / 686])
draw_panel(ax_bot, gust_members, gust_oper, gust_ctrl, gust_median, gust_mean, 24)
ax_bot.axhline(gust_threshold, color='#2f5a4f', lw=1.6, dashes=(1.2, 1.8), zorder=8)
draw_header(fig, 'Windstoten', 367, 396)

fig.savefig('out.png', dpi=100)
